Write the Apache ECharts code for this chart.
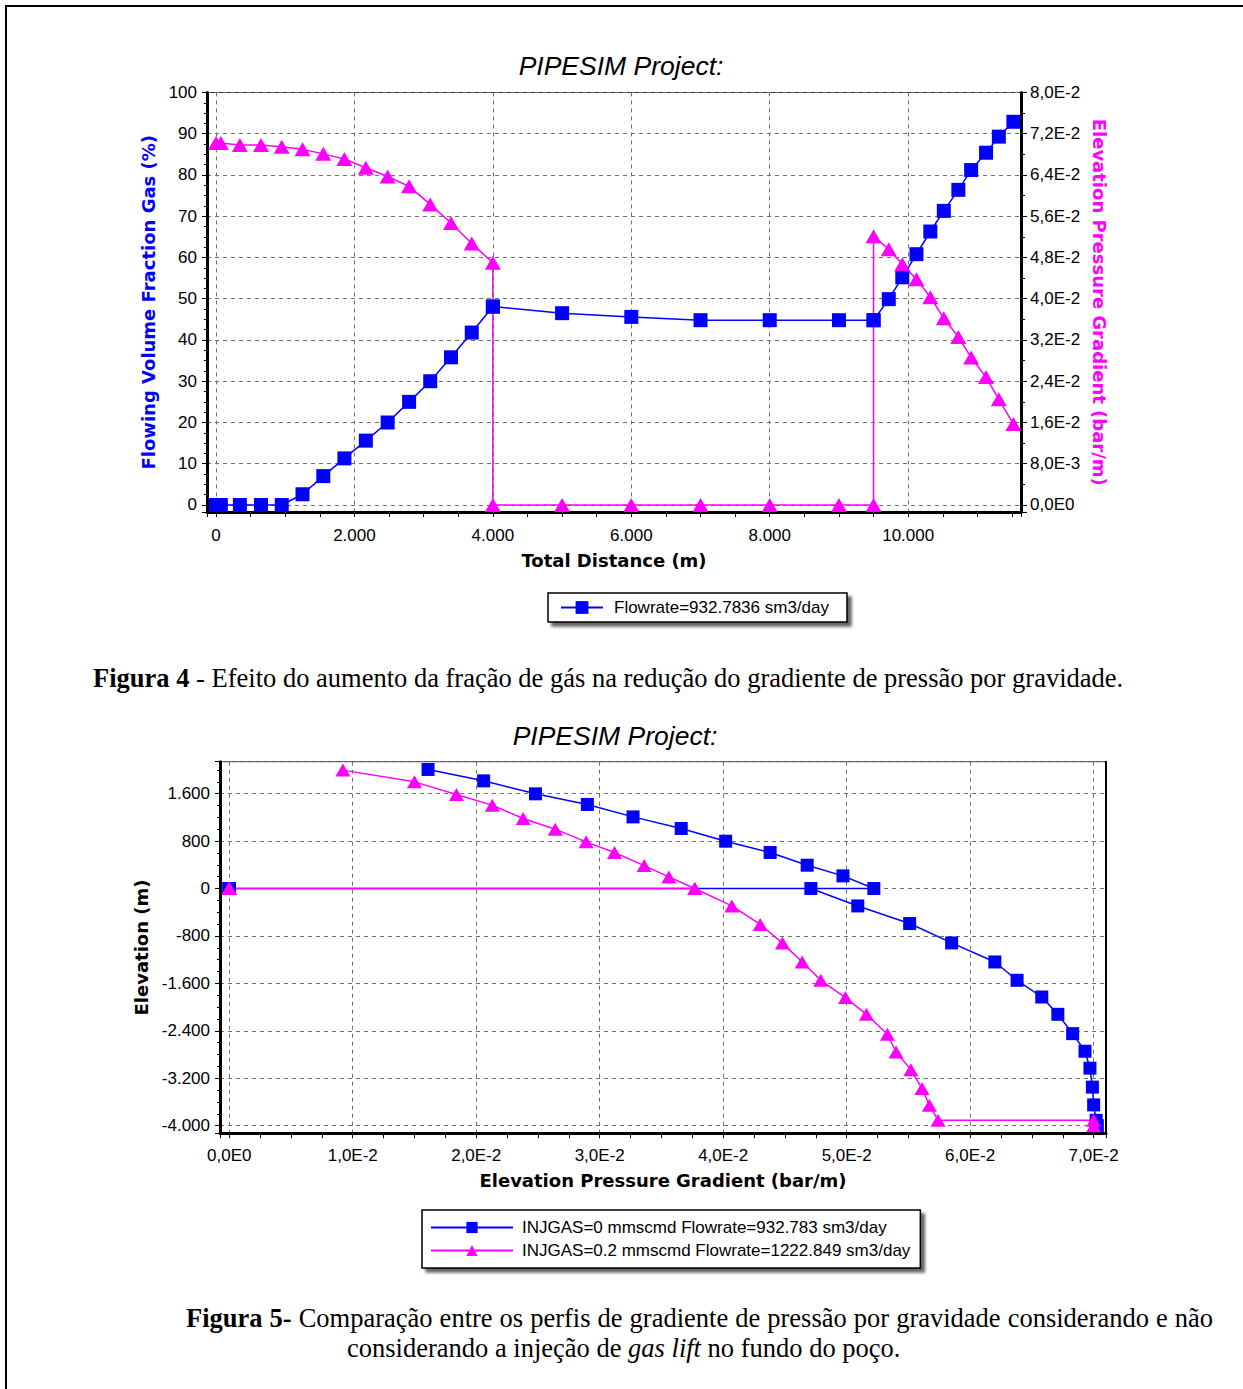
<!DOCTYPE html>
<html lang="pt">
<head>
<meta charset="utf-8">
<title>PIPESIM Project</title>
<script src="https://cdn.jsdelivr.net/npm/echarts@6.0.0/dist/echarts.min.js"></script>
<style>
  html, body { margin: 0; padding: 0; background: #fff; }
  #page { position: relative; width: 1243px; height: 1389px; overflow: hidden; background: #fff; }
  #frame { position: absolute; left: 5px; top: 5px; width: 1300px; height: 1450px; border: 2px solid #000; box-sizing: border-box; }
  #chart { position: absolute; left: 0; top: 0; width: 1243px; height: 1389px; }
  .caption { position: absolute; margin: 0; font-family: "Liberation Serif", "Times New Roman", serif;
             font-size: 26.5px; line-height: 30px; color: #000; white-space: nowrap; }
</style>
</head>
<body>
<div id="page">
  <div id="frame"></div>
  <div id="chart"></div>
  <p class="caption" style="left:93px; top:663px;"><b>Figura 4</b> - Efeito do aumento da fração de gás na redução do gradiente de pressão por gravidade.</p>
  <p class="caption" style="left:186px; top:1303px; width:1027px; text-align:justify; text-align-last:justify;"><b>Figura 5-</b> Comparação entre os perfis de gradiente de pressão por gravidade considerando e não</p>
  <p class="caption" style="left:347px; top:1333px;">considerando a injeção de <i>gas lift</i> no fundo do poço.</p>
</div>
<script>
// ---- Figure 4: profile along the line (well 0-4000 m, flowline 4000-9500 m, riser 9500 m to top)
const distance = [0, 70, 345, 650, 950, 1250, 1550, 1855, 2165, 2480, 2790, 3095, 3395, 3695, 4000,
                  4000, 5000, 6000, 7000, 8000, 9000, 9500,
                  9500, 9720, 9915, 10120, 10320, 10515, 10725, 10910, 11125, 11310, 11520];
const gasFraction = [0, 0, 0, 0, 0, 2.6, 7.0, 11.3, 15.6, 20.0, 25.0, 30.0, 35.8, 41.8, 48.1,
                     48.1, 46.5, 45.6, 44.8, 44.8, 44.8, 44.8,
                     44.8, 49.9, 55.2, 60.8, 66.3, 71.3, 76.4, 81.2, 85.4, 89.3, 92.9];
const elevGradient = [0.0702, 0.0702, 0.0698, 0.0698, 0.0695, 0.0690, 0.0681, 0.0671, 0.0654, 0.0637, 0.0618, 0.0583, 0.0547, 0.0507, 0.0470,
                      0, 0, 0, 0, 0, 0, 0,
                      0.0521, 0.0496, 0.0467, 0.0438, 0.0403, 0.0362, 0.0326, 0.0286, 0.0248, 0.0205, 0.0157];

// ---- Figure 5: elevation vs elevation pressure gradient, without and with gas lift
const gradNoLift = [0.0703, 0.0702, 0.0700, 0.0699, 0.0697, 0.0693, 0.0683, 0.0671, 0.0658, 0.0638, 0.0620, 0.0585, 0.0551, 0.0509, 0.0471,
                    0, 0, 0, 0, 0, 0, 0,
                    0.0522, 0.0497, 0.0468, 0.0438, 0.0402, 0.0366, 0.0327, 0.0290, 0.0248, 0.0206, 0.0161];
const elevNoLift = [-4000, -3910, -3650, -3350, -3030, -2745, -2448, -2122, -1830, -1548, -1239, -918, -591, -294, 0,
                    0, 0, 0, 0, 0, 0, 0,
                    0, 213, 393, 607, 798, 1013, 1208, 1418, 1597, 1816, 2008];
const gradGasLift = [0.0700, 0.0700, 0.0574, 0.0567, 0.0561, 0.0552, 0.0540, 0.0533, 0.0516, 0.0499, 0.0479, 0.0464, 0.0448, 0.0430, 0.0407, 0.0377,
                     0, 0, 0, 0, 0, 0, 0,
                     0.0377, 0.0356, 0.0336, 0.0312, 0.0289, 0.0264, 0.0238, 0.0213, 0.0184, 0.0150, 0.0092];
const elevGasLift = [-4000, -3910, -3910, -3657, -3375, -3055, -2758, -2459, -2122, -1840, -1548, -1239, -921, -605, -294, 0,
                     0, 0, 0, 0, 0, 0, 0,
                     0, 196, 387, 607, 787, 1001, 1181, 1406, 1586, 1799, 1997];

const seriesNames = {
  flow: 'Flowrate=932.7836 sm3/day',
  gradient: 'Elevation Pressure Gradient (bar/m)',
  noLift: 'INJGAS=0 mmscmd Flowrate=932.783 sm3/day',
  gasLift: 'INJGAS=0.2 mmscmd Flowrate=1222.849 sm3/day'
};

const BLUE = '#0000ff';
const MAGENTA = '#ff00ff';
const LABEL_FONT = '"Liberation Sans", Arial, sans-serif';
const NAME_FONT = '"DejaVu Sans", Verdana, sans-serif';

function pairs(xs, ys) { return xs.map((x, i) => [x, ys[i]]); }

// 2.000 / -1.600 style thousands separator
function thousands(v) {
  const r = Math.round(v);
  const s = String(Math.abs(r)).replace(/\B(?=(\d{3})+(?!\d))/g, '.');
  return (r < 0 ? '-' : '') + s;
}
// 8,0E-2 style scientific notation
function sci(v) {
  if (Math.abs(v) < 1e-12) return '0,0E0';
  let e = Math.floor(Math.log10(Math.abs(v)));
  let m = Math.round(v / Math.pow(10, e) * 10) / 10;
  if (Math.abs(m) >= 10) { m /= 10; e += 1; }
  return m.toFixed(1).replace('.', ',') + 'E' + e;
}

const label = (extra) => Object.assign({ color: '#000', fontFamily: LABEL_FONT, fontSize: 17 }, extra);
const nameStyle = (color) => ({ color: color, fontFamily: NAME_FONT, fontWeight: 'bold', fontSize: 18 });
const axisLine = (w) => ({ show: true, onZero: false, lineStyle: { color: '#000', width: w } });
const tick = (len) => ({ show: true, length: len, lineStyle: { color: '#000', width: 1 } });
const minor = (n, len) => ({ show: true, splitNumber: n, length: len, lineStyle: { color: '#000', width: 1 } });
const dashed = { show: true, lineStyle: { color: '#6e6e6e', width: 1, type: [4, 4] } };

function lineSeries(name, xi, yi, data, symbol, size, color) {
  return {
    name, type: 'line', xAxisIndex: xi, yAxisIndex: yi, data,
    symbol, symbolSize: size, showAllSymbol: true, color,
    lineStyle: { color, width: 1.5 }, itemStyle: { color },
    emphasis: { disabled: true }, animation: false
  };
}

const chart = echarts.init(document.getElementById('chart'), null, { renderer: 'svg', width: 1243, height: 1389 });

const titleStyle = {
  text: 'PIPESIM Project:', fill: '#000', font: 'italic 26.5px "Liberation Sans", Arial, sans-serif',
  align: 'center', verticalAlign: 'middle', textAlign: 'center', textVerticalAlign: 'middle'
};

chart.setOption({
  animation: false,
  textStyle: { fontFamily: LABEL_FONT },
  grid: [
    { left: 207, top: 92.5, width: 814, height: 419.5, show: true, borderColor: '#333', borderWidth: 1,
      backgroundColor: 'transparent', containLabel: false, outerBoundsMode: 'none' },
    { left: 220, top: 761.7, width: 886, height: 371.6, show: true, borderColor: '#333', borderWidth: 1,
      backgroundColor: 'transparent', containLabel: false, outerBoundsMode: 'none' }
  ],
  graphic: [
    { type: 'text', x: 621, y: 66, silent: true, style: Object.assign({}, titleStyle) },
    { type: 'text', x: 615, y: 736, silent: true, style: Object.assign({}, titleStyle) }
  ],
  legend: [
    { data: [seriesNames.flow], left: 548, top: 593, orient: 'horizontal', selectedMode: false,
      padding: [6, 18, 6, 12], itemWidth: 42, itemHeight: 16,
      backgroundColor: '#fff', borderColor: '#000', borderWidth: 1.5,
      shadowColor: 'rgba(0,0,0,0.6)', shadowBlur: 3, shadowOffsetX: 4, shadowOffsetY: 4,
      textStyle: { color: '#000', fontFamily: LABEL_FONT, fontSize: 17, padding: [0, 0, 0, 6] } },
    { data: [seriesNames.noLift, seriesNames.gasLift], left: 422, top: 1210, orient: 'vertical', selectedMode: false,
      itemGap: 6, padding: [9, 10, 9, 8], itemWidth: 82, itemHeight: 14,
      backgroundColor: '#fff', borderColor: '#000', borderWidth: 1.5,
      shadowColor: 'rgba(0,0,0,0.6)', shadowBlur: 3, shadowOffsetX: 4, shadowOffsetY: 4,
      textStyle: { color: '#000', fontFamily: LABEL_FONT, fontSize: 17, padding: [0, 0, 0, 4] } }
  ],
  xAxis: [
    { gridIndex: 0, type: 'value', min: -130, max: 11630, minInterval: 2000, maxInterval: 2000,
      name: 'Total Distance (m)', nameLocation: 'middle', nameGap: 39, nameTextStyle: nameStyle('#000'),
      axisLine: axisLine(3), axisTick: tick(5), minorTick: minor(4, 5),
      axisLabel: label({ showMinLabel: false, showMaxLabel: false, margin: 15, formatter: thousands }),
      splitLine: dashed, minorSplitLine: { show: false } },
    { gridIndex: 1, type: 'value', min: -0.00075, max: 0.071, minInterval: 0.01, maxInterval: 0.01,
      name: 'Elevation Pressure Gradient (bar/m)', nameLocation: 'middle', nameGap: 38, nameTextStyle: nameStyle('#000'),
      axisLine: axisLine(3), axisTick: tick(5), minorTick: minor(4, 5),
      axisLabel: label({ showMinLabel: false, showMaxLabel: false, margin: 14, formatter: sci }),
      splitLine: dashed, minorSplitLine: { show: false } }
  ],
  yAxis: [
    { gridIndex: 0, type: 'value', position: 'left', min: -1.7, max: 100, minInterval: 10, maxInterval: 10,
      name: 'Flowing Volume Fraction Gas (%)', nameLocation: 'middle', nameGap: 46, nameTextStyle: nameStyle(BLUE),
      axisLine: axisLine(3), axisTick: tick(5), minorTick: minor(4, 3),
      axisLabel: label({ showMinLabel: false, margin: 10, formatter: (v) => String(Math.round(v)) }),
      splitLine: dashed, minorSplitLine: { show: false } },
    { gridIndex: 0, type: 'value', position: 'right', min: -0.00136, max: 0.08, minInterval: 0.008, maxInterval: 0.008,
      name: 'Elevation Pressure Gradient (bar/m)', nameLocation: 'middle', nameGap: 67, nameRotate: -90,
      nameTextStyle: nameStyle(MAGENTA),
      axisLine: axisLine(3), axisTick: tick(6), minorTick: minor(2, 4),
      axisLabel: label({ showMinLabel: false, margin: 9, formatter: sci }),
      splitLine: { show: false }, minorSplitLine: { show: false } },
    { gridIndex: 1, type: 'value', position: 'left', min: -4129, max: 2139, minInterval: 800, maxInterval: 800,
      name: 'Elevation (m)', nameLocation: 'middle', nameGap: 66, nameTextStyle: nameStyle('#000'),
      axisLine: axisLine(3), axisTick: tick(5), minorTick: minor(4, 3),
      axisLabel: label({ showMinLabel: false, showMaxLabel: false, margin: 10, formatter: thousands }),
      splitLine: dashed, minorSplitLine: { show: false } },
    { gridIndex: 1, type: 'value', position: 'right', min: -4129, max: 2139,
      axisLine: axisLine(2), axisTick: { show: false }, axisLabel: { show: false },
      splitLine: { show: false } }
  ],
  series: [
    lineSeries(seriesNames.flow, 0, 0, pairs(distance, gasFraction), 'rect', 14, BLUE),
    lineSeries(seriesNames.gradient, 0, 1, pairs(distance, elevGradient), 'triangle', [16, 14], MAGENTA),
    lineSeries(seriesNames.noLift, 1, 2, pairs(gradNoLift, elevNoLift), 'rect', 13, BLUE),
    lineSeries(seriesNames.gasLift, 1, 2, pairs(gradGasLift, elevGasLift), 'triangle', [15, 13], MAGENTA)
  ]
});
</script>
</body>
</html>
